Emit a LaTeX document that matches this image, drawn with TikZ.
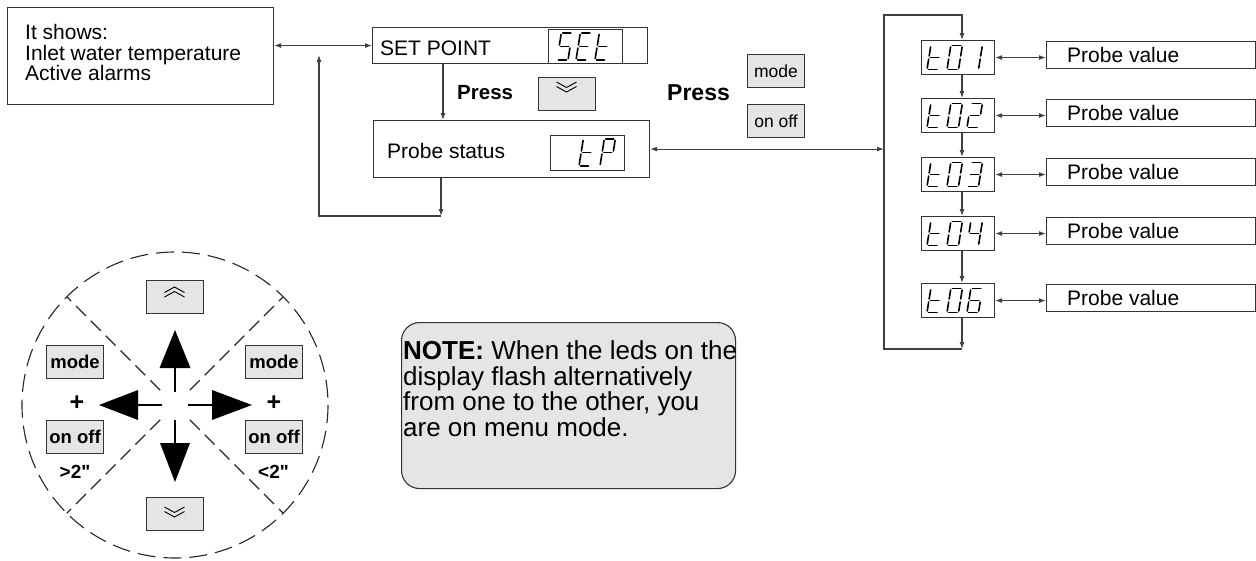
\documentclass[tikz,border=0pt]{standalone}
\usepackage{fontspec}
\setmainfont{Liberation Sans}
\newfontfamily\rawsans{Liberation Sans}[Ligatures=TeXOff]
\usetikzlibrary{arrows.meta,calc}
\newcommand\fsz[1]{\fontsize{#1}{#1}\selectfont}
\def\segW{11}\def\segH{23}
\newcommand\sga{\draw (1.5,\segH) -- ({\segW-1.5},\segH);}
\newcommand\sgb{\draw (\segW,{\segH-1.5}) -- (\segW,{\segH/2+1.5});}
\newcommand\sgc{\draw (\segW,{\segH/2-1.5}) -- (\segW,1.5);}
\newcommand\sgd{\draw (1.5,0) -- ({\segW-1.5},0);}
\newcommand\sge{\draw (0,1.5) -- (0,{\segH/2-1.5});}
\newcommand\sgf{\draw (0,{\segH/2+1.5}) -- (0,{\segH-1.5});}
\newcommand\sgg{\draw (1.5,{\segH/2}) -- ({\segW-1.5},{\segH/2});}
\newcommand\segchar[3]{\begin{scope}[shift={(#1,#2)},y=1pt,xslant=0.16,line width=1.6pt,line cap=round]\foreach \s in {#3}{\csname sg\s\endcsname}\end{scope}}
\newcommand\chevdn[2]{\draw[line width=0.9pt] ({#1-10},{#2-5}) -- (#1,{#2+0.5}) -- ({#1+10},{#2-5});\draw[line width=0.9pt] ({#1-10},{#2-0.5}) -- (#1,{#2+5}) -- ({#1+10},{#2-0.5});}
\newcommand\chevup[2]{\draw[line width=0.9pt] ({#1-10},{#2+5}) -- (#1,{#2-0.5}) -- ({#1+10},{#2+5});\draw[line width=0.9pt] ({#1-10},{#2+0.5}) -- (#1,{#2-5}) -- ({#1+10},{#2+0.5});}
\begin{document}
\begin{tikzpicture}[x=1pt,y=-1pt,>={Latex[length=7pt,width=5pt]},
  bx/.style={draw=black!80,line width=1.1pt,inner sep=0pt,anchor=north west,rectangle},
  btn/.style={bx,fill=black!10},
  cn/.style={draw=black!75,line width=1.1pt},
  lbl/.style={inner sep=0pt,anchor=base west},
  dsh/.style={draw=black!85,line width=1.1pt,dash pattern=on 18pt off 8pt},
  cbtn/.style={btn,minimum width=57pt,minimum height=33pt,font=\bfseries\fsz{18.5}},
  tbtn/.style={btn,minimum width=57pt,minimum height=33pt,font=\fsz{17.5}}]
\useasboundingbox (0,0) rectangle (1256,560);
% info box
\node[bx,minimum width=266pt,minimum height=97pt] (info) at (7,7) {};
\node[lbl,font=\fsz{21}] (i1) at (25,39.5) {It shows:};
\node[lbl,font=\fsz{21}] (i2) at (25,60) {Inlet water temperature};
\node[lbl,font=\fsz{21}] (i3) at (25,80.5) {Active alarms};
% set point
\node[bx,minimum width=275pt,minimum height=36pt] (setp) at (372,27) {};
\node[lbl,font=\fsz{21}] (setl) at (380,55) {SET POINT};
\node[bx,minimum width=74pt,minimum height=34pt] (setd) at (548,29) {};
\def\segW{11}\def\segH{27}
\segchar{557}{60}{a,f,g,c,d}
\segchar{576}{60}{a,f,g,e,d}
\segchar{595}{60}{f,g,e,d}
% probe status
\node[bx,minimum width=276pt,minimum height=57pt] (probe) at (373,120) {};
\node[lbl,font=\fsz{21}] (probl) at (387,158) {Probe status};
\node[bx,minimum width=74pt,minimum height=35pt] (tpd) at (550,135) {};
\segchar{579}{166}{f,g,e,d}
\segchar{600}{166}{a,b,f,g,e}
% press
\node[lbl,font=\bfseries\fsz{20.5}] (press1) at (457,99) {Press};
\node[btn,minimum width=57pt,minimum height=33pt] (dnbtn) at (538,77) {};
\chevdn{566.5}{87}
\node[lbl,font=\bfseries\fsz{23}] (press2) at (667,100) {Press};
\node[tbtn] (modeb) at (747,54) {mode};
\node[tbtn] (onoffb) at (747,104) {on off};
% left connectors
\coordinate (sx) at (443,0);
\coordinate (pd) at (441,216);
\coordinate (jn) at (319,216);
\coordinate (upend) at (319,55);
\draw[cn,<->] (info.east |- setp.west) -- (setp.west);
\draw[cn,->] (setp.south -| sx) -- (probe.north -| sx);
\draw[cn,->] (probe.south -| pd) -- (pd);
\draw[cn,->] (pd) -- (jn) -- (upend);
% right loop
\coordinate (lpT) at (884,15);
\coordinate (lpB) at (884,349);
\coordinate (cx) at (962,15);
\coordinate (cxB) at (962,349);
\draw[cn,<->] (probe.east) -- (probe.east -| lpT);
\foreach \n/\y in {1/40,2/98,3/157,4/216,6/283}{
  \node[bx,minimum width=73pt,minimum height=34pt] (t\n) at (921,\y) {};
  \node[bx,minimum width=209pt,minimum height=27pt] (pv\n) at (1046,{\y+1}) {};
  \node[lbl,font=\fsz{21}] (pvl\n) at (1067,{\y+22}) {Probe value};
  \draw[cn,<->] (t\n.east) -- (t\n.east -| pv\n.west);
}
\def\segW{11.5}\def\segH{24}
\segchar{927}{69.5}{f,g,e,d}\segchar{947}{69.5}{a,b,c,d,e,f}\segchar{967}{69.5}{b,c}
\segchar{927}{127.5}{f,g,e,d}\segchar{947}{127.5}{a,b,c,d,e,f}\segchar{967}{127.5}{a,b,g,e,d}
\segchar{927}{186.5}{f,g,e,d}\segchar{947}{186.5}{a,b,c,d,e,f}\segchar{967}{186.5}{a,b,g,c,d}
\segchar{927}{245.5}{f,g,e,d}\segchar{947}{245.5}{a,b,c,d,e,f}\segchar{967}{245.5}{f,g,b,c}
\segchar{927}{312.5}{f,g,e,d}\segchar{947}{312.5}{a,b,c,d,e,f}\segchar{967}{312.5}{a,f,g,e,d,c}
\draw[cn,->] (cxB) -- (lpB) -- (lpT) -- (cx) -- (t1.north -| cx);
\draw[cn,->] (t1.south -| cx) -- (t2.north -| cx);
\draw[cn,->] (t2.south -| cx) -- (t3.north -| cx);
\draw[cn,->] (t3.south -| cx) -- (t4.north -| cx);
\draw[cn,->] (t4.south -| cx) -- (t6.north -| cx);
\draw[cn,->] (t6.south -| cx) -- (cxB);
% circle
\coordinate (ctr) at (175,405);
\draw[dsh] (ctr) circle[radius=153];
\foreach \a in {45,135,225,315}
  \draw[dsh,dash pattern=on 14pt off 7pt] ($(ctr)+(\a:21)$) -- ($(ctr)+(\a:153)$);
\node[btn,minimum width=57pt,minimum height=33pt] (upb) at (146,280) {};
\chevup{174.5}{292}
\node[btn,minimum width=57pt,minimum height=33pt] (dnb) at (146,497) {};
\chevdn{174.5}{512}
\node[cbtn] (modeL) at (46,345) {mode};
\node[cbtn] (onL) at (46,420) {on off};
\node[cbtn] (modeR) at (245,345) {mode};
\node[cbtn] (onR) at (245,420) {on off};
\node[font=\bfseries\fsz{25},inner sep=0pt] (plusL) at (77,403) {+};
\node[font=\bfseries\fsz{25},inner sep=0pt] (plusR) at (274,403) {+};
\node[font=\rawsans\bfseries\fsz{19},inner sep=0pt] (gtL) at (75,472) {>2"};
\node[font=\rawsans\bfseries\fsz{19},inner sep=0pt] (ltR) at (273.5,472) {<2"};
\begin{scope}[line width=2.2pt]
\draw (175,392) -- (175,366);
\fill (175,330) -- (159.5,368) -- (190.5,368) -- cycle;
\draw (162,405) -- (136,405);
\fill (99,405) -- (138,390) -- (138,420) -- cycle;
\draw (188,405) -- (214,405);
\fill (252,405) -- (212,390) -- (212,420) -- cycle;
\draw (175,420) -- (175,445);
\fill (175,482) -- (160,443) -- (190,443) -- cycle;
\end{scope}
% note
\node[draw=black!80,fill=black!10,rounded corners=18pt,line width=1.1pt,minimum width=334pt,minimum height=166pt,anchor=north west] (note) at (401,322) {};
\node[lbl,font=\fsz{26}] (n1) at (403,359) {\textbf{NOTE:} When the leds on the};
\node[lbl,font=\fsz{26}] (n2) at (403,385) {display flash alternatively};
\node[lbl,font=\fsz{26}] (n3) at (403,410.5) {from one to the other, you};
\node[lbl,font=\fsz{26}] (n4) at (403,436) {are on menu mode.};
\end{tikzpicture}
\end{document}
